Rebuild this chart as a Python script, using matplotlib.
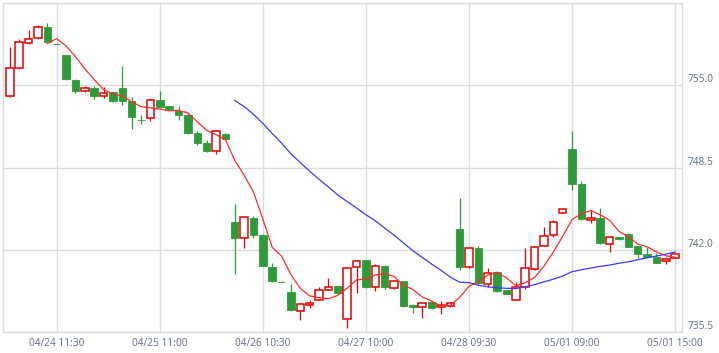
#!/usr/bin/env python3
"""30-minute candlestick chart with MA5 / MA25 overlays."""

import matplotlib

matplotlib.use("Agg")
import matplotlib.pyplot as plt
import numpy as np
import pandas as pd

# candle values, left to right
OPENS = [
    754.13, 756.35, 758.38, 758.78, 759.60, 758.32, 757.38, 755.45, 754.58, 754.82,
    754.18, 754.45, 754.82, 753.81, 752.30, 752.44, 753.87, 753.34, 752.96, 752.70,
    751.27, 750.48, 749.82, 751.19, 744.22, 742.93, 744.51, 743.19, 740.65, 739.48,
    738.67, 737.14, 737.67, 738.04, 738.83, 739.12, 736.51, 740.65, 741.18, 739.04,
    740.73, 738.96, 739.54, 737.64, 737.46, 737.88, 737.48, 737.55, 743.66, 740.63,
    742.14, 739.28, 740.26, 738.83, 738.01, 739.02, 740.47, 742.32, 743.19, 744.92,
    749.98, 747.21, 744.35, 744.51, 742.48, 743.03, 743.29, 742.29, 741.66, 741.47,
    741.13, 741.34,
]
HIGHS = [
    758.04, 758.70, 759.38, 759.81, 759.97, 758.35, 757.40, 755.55, 754.98, 754.95,
    754.87, 754.50, 756.56, 754.07, 752.68, 754.02, 754.60, 753.36, 753.39, 752.89,
    751.41, 750.72, 751.45, 751.22, 745.62, 744.60, 744.70, 743.22, 740.99, 739.50,
    739.28, 737.80, 738.01, 739.07, 739.80, 739.14, 740.62, 741.18, 741.20, 740.86,
    740.83, 739.54, 739.55, 737.70, 737.80, 737.96, 737.96, 737.85, 746.10, 742.15,
    742.32, 740.60, 740.34, 738.85, 739.49, 742.18, 742.25, 743.77, 744.38, 745.22,
    751.43, 747.47, 745.15, 745.31, 743.10, 743.05, 743.31, 742.31, 742.26, 741.74,
    741.45, 741.68,
]
LOWS = [
    754.10, 756.30, 758.27, 758.70, 758.40, 758.28, 755.42, 754.42, 754.45, 753.95,
    754.02, 753.70, 753.49, 751.57, 751.96, 752.17, 753.20, 753.08, 752.28, 751.17,
    750.32, 749.77, 749.59, 750.70, 740.07, 742.14, 742.93, 740.70, 739.49, 739.43,
    737.16, 736.43, 737.43, 738.00, 738.80, 738.55, 735.85, 738.57, 738.96, 738.75,
    738.88, 738.94, 737.49, 736.98, 736.59, 737.35, 736.95, 737.50, 740.39, 740.60,
    739.30, 739.07, 738.69, 738.52, 738.00, 738.88, 740.40, 742.30, 743.03, 744.90,
    746.73, 744.38, 744.16, 742.50, 741.84, 742.80, 742.24, 741.39, 741.34, 740.95,
    740.87, 741.32,
]
CLOSES = [
    756.40, 758.46, 758.70, 759.65, 758.43, 758.30, 755.50, 754.55, 754.82, 754.15,
    754.37, 753.76, 753.76, 752.49, 752.27, 753.87, 753.26, 753.10, 752.65, 751.22,
    750.43, 749.85, 751.41, 750.74, 742.97, 744.56, 743.17, 740.76, 739.54, 739.45,
    737.22, 737.75, 737.83, 738.81, 739.04, 738.57, 740.60, 741.10, 739.09, 740.70,
    739.07, 739.52, 737.59, 737.46, 737.77, 737.38, 737.62, 737.78, 740.63, 742.14,
    739.34, 740.15, 738.75, 738.54, 739.02, 740.55, 742.23, 743.13, 744.24, 745.20,
    747.21, 744.40, 744.51, 742.53, 743.05, 742.82, 742.26, 741.66, 741.44, 740.99,
    741.31, 741.66,
]

TICK_IDX = [5, 16, 27, 38, 49, 60, 71]
TICK_LABELS = ["04/24 11:30", "04/25 11:00", "04/26 10:30", "04/27 10:00",
               "04/28 09:30", "05/01 09:00", "05/01 15:00"]
Y_TICKS = [735.5, 742.0, 748.5, 755.0, 761.5]

UP = "#e30000"
DOWN = "#2e9b38"
GRID = "#dcdcdc"
TEXT = "#6a7690"


def main() -> None:
    df = pd.DataFrame({"open": OPENS, "high": HIGHS, "low": LOWS, "close": CLOSES})
    x = np.arange(len(df))
    up = df["close"] >= df["open"]
    colors = np.where(up, UP, DOWN)

    fig = plt.figure(figsize=(7.19, 3.53), dpi=100)
    ax = fig.add_axes([3.3 / 719, 21 / 353, 678.7 / 719, 328.7 / 353])

    ax.vlines(x, df["low"], df["high"], colors=colors, linewidth=0.9, zorder=2)
    bottom = np.minimum(df["open"], df["close"])
    height = (df["close"] - df["open"]).abs()
    ax.bar(x, height, width=0.8, bottom=bottom,
           color=np.where(up, "white", DOWN), edgecolor=colors,
           linewidth=np.where(up, 1.1, 0.6), zorder=3)

    ma5 = df["close"].rolling(5).mean()
    ma25 = df["close"].rolling(25).mean()
    ax.plot(x, ma5, color="#ff2a2a", linewidth=0.9, zorder=4)
    ax.plot(x, ma25, color="#3a3aff", linewidth=0.9, zorder=4)

    ax.set_xlim(-0.7, 71.73)
    ax.set_ylim(735.5, 761.5)
    ax.set_xticks(TICK_IDX)
    ax.set_xticklabels(TICK_LABELS)
    ax.set_yticks(Y_TICKS)
    ax.set_yticklabels(["735.5", "742.0", "748.5", "755.0", ""])
    ax.yaxis.tick_right()
    ax.tick_params(length=0, labelsize=7.3, labelcolor=TEXT, pad=4)
    ax.tick_params(axis="y", pad=4)
    for lbl in ax.get_yticklabels():
        lbl.set_verticalalignment("bottom")
    for lbl in ax.get_xticklabels() + ax.get_yticklabels():
        lbl.set_family("Noto Sans")

    ax.grid(color=GRID, linewidth=1.0, zorder=0)
    ax.set_axisbelow(True)
    for sp in ax.spines.values():
        sp.set_color(GRID)
        sp.set_linewidth(1.0)

    fig.savefig("out.png", dpi=100)
    plt.close(fig)


if __name__ == "__main__":
    main()
